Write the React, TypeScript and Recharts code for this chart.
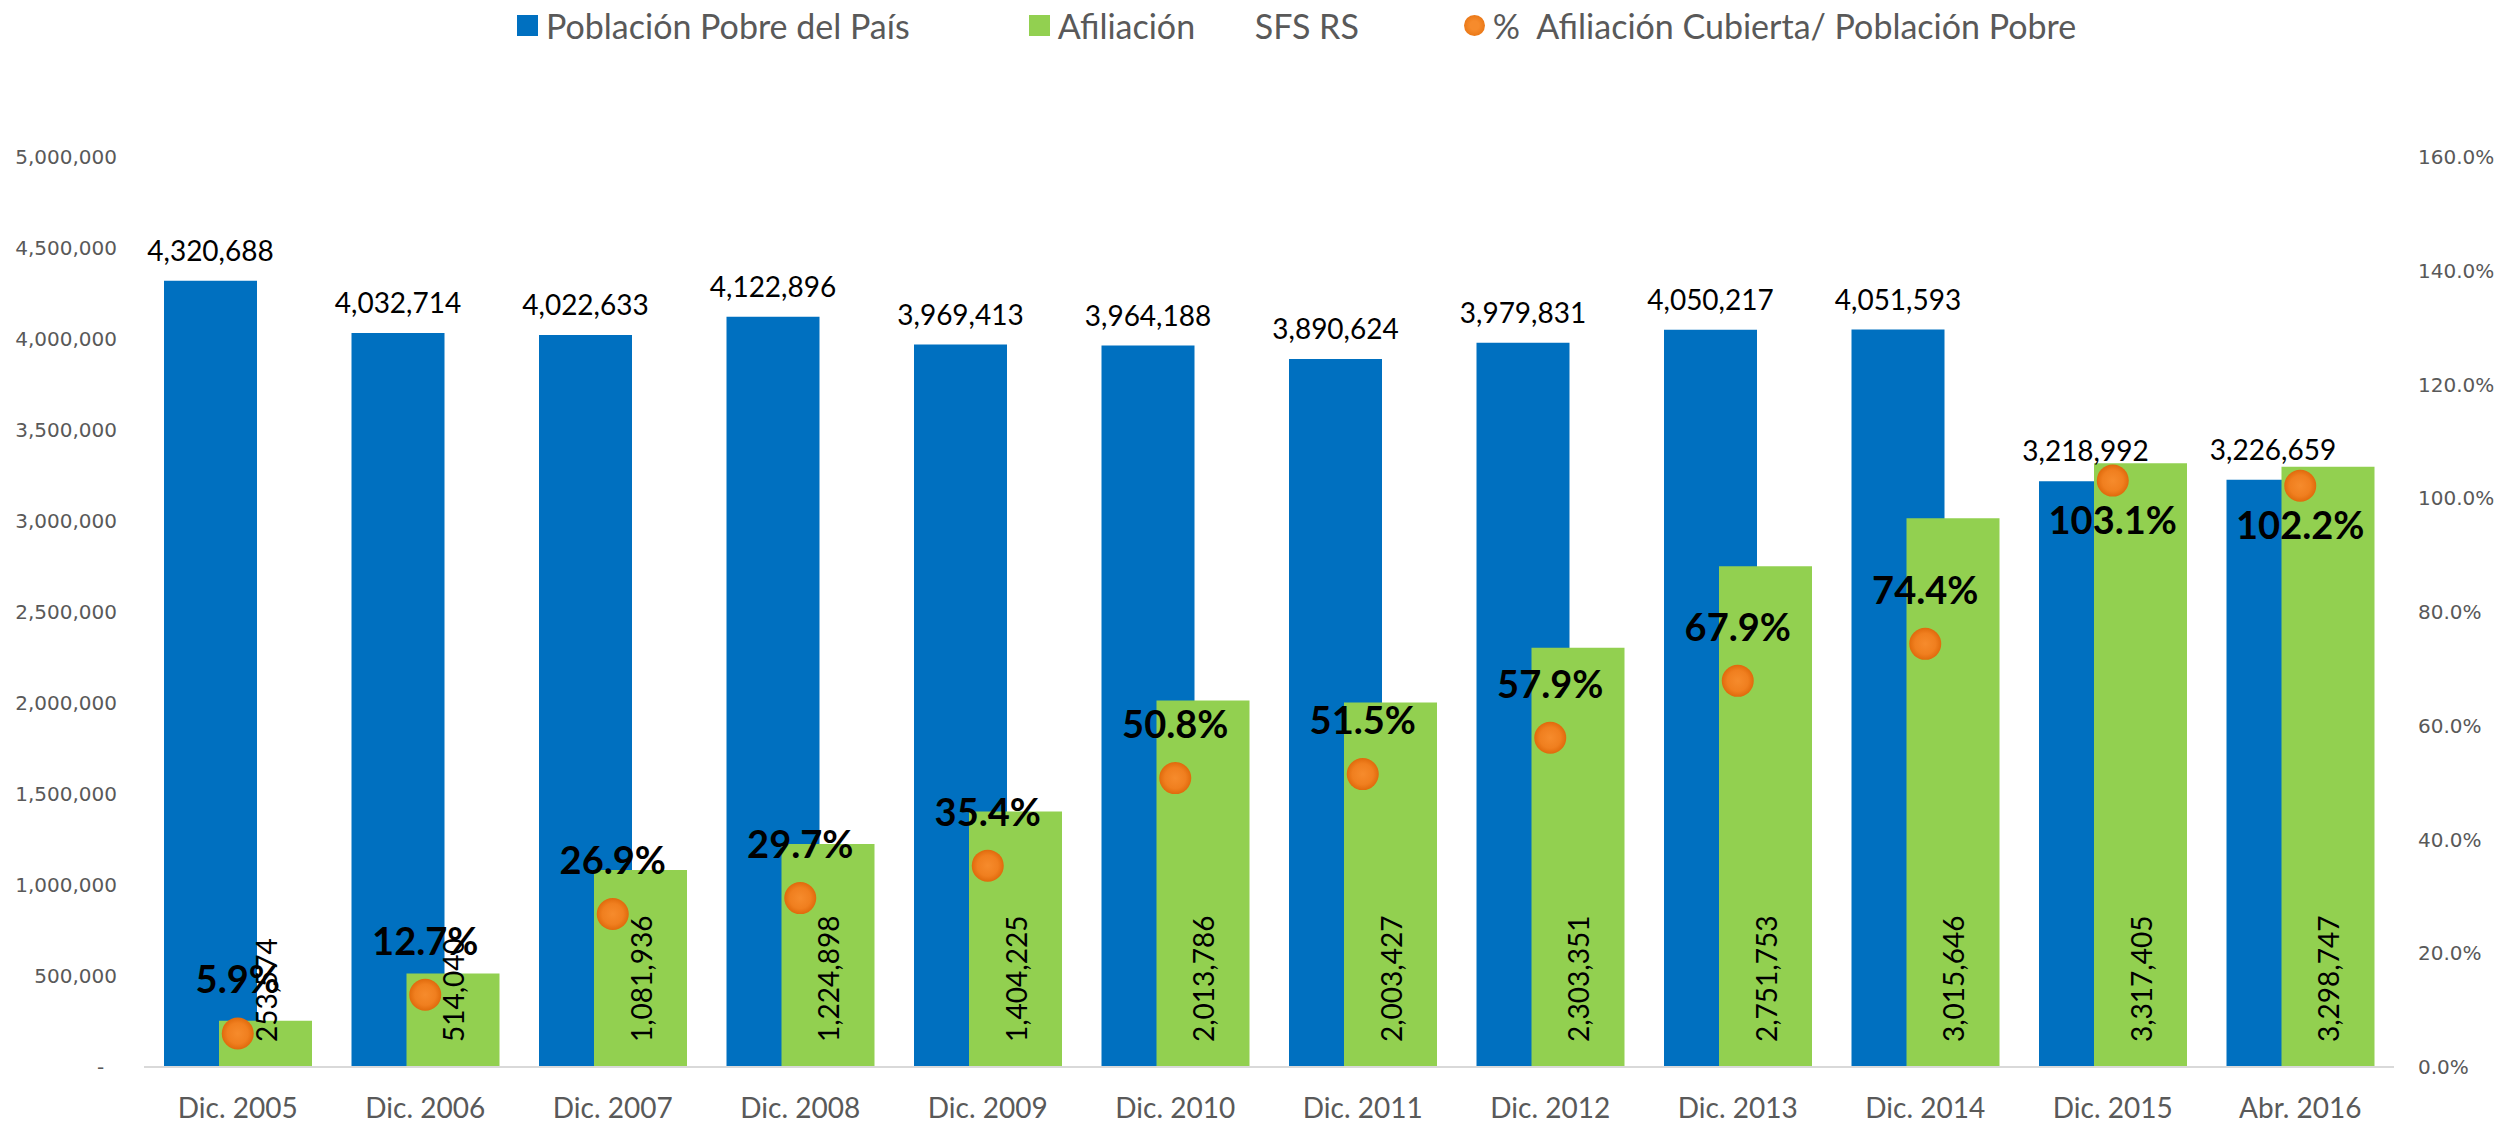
import React from 'react';
import {
  ComposedChart,
  Bar,
  Line,
  XAxis,
  YAxis,
  Legend,
  LabelList,
} from 'recharts';

// Categories and series
const categories = [
  'Dic. 2005', 'Dic. 2006', 'Dic. 2007', 'Dic. 2008', 'Dic. 2009', 'Dic. 2010',
  'Dic. 2011', 'Dic. 2012', 'Dic. 2013', 'Dic. 2014', 'Dic. 2015', 'Abr. 2016',
];
const poblacionPobre = [
  4320688, 4032714, 4022633, 4122896, 3969413, 3964188,
  3890624, 3979831, 4050217, 4051593, 3218992, 3226659,
];
const afiliacion = [
  253574, 514040, 1081936, 1224898, 1404225, 2013786,
  2003427, 2303351, 2751753, 3015646, 3317405, 3298747,
];
const cobertura = [
  0.059, 0.127, 0.269, 0.297, 0.354, 0.508,
  0.515, 0.579, 0.679, 0.744, 1.031, 1.022,
];
const leftTicks = [0, 500000, 1000000, 1500000, 2000000, 2500000, 3000000, 3500000, 4000000, 4500000, 5000000];
const rightTicks = [0, 0.2, 0.4, 0.6, 0.8, 1.0, 1.2, 1.4, 1.6];

const data = categories.map((name, i) => ({
  name,
  pobre: poblacionPobre[i],
  afil: afiliacion[i],
  pct: cobertura[i],
}));

const BLUE = '#0070C0';
const GREEN = '#92D050';
const LABEL_FONT = 'Lato, "Noto Sans", sans-serif';
const AXIS_FONT = '"DejaVu Sans", sans-serif';
const LEGEND_ORDER = ['pobre', 'afil', 'pct'];
const LEGEND_GAPS = [119, 105, 0];
const fmt = (v: number) => v.toLocaleString('en-US');

// blue bar values above each bar
const renderTopLabel = (props: any) => {
  const { x, y, width, value } = props;
  return (
    <text x={x + width / 2} y={y - 20} textAnchor="middle" fill="#000" fontSize={28} fontFamily={LABEL_FONT}>
      {fmt(value)}
    </text>
  );
};

// green bar values, rotated, sitting near the bottom of each bar
const renderInsideLabel = (props: any) => {
  const { x, y, width, height, value } = props;
  const cx = x + width / 2;
  const by = y + height - 25;
  return (
    <text
      x={cx}
      y={by}
      transform={`rotate(-90 ${cx} ${by})`}
      textAnchor="start"
      dominantBaseline="central"
      fill="#000"
      fontSize={28}
      fontFamily={LABEL_FONT}
    >
      {fmt(value)}
    </text>
  );
};

// percentage labels: above the dot, below it once coverage passes 100%
const renderPctLabel = (props: any) => {
  const { x, y, value } = props;
  const below = value > 1;
  return (
    <text
      x={x}
      y={below ? y + 53 : y - 40}
      textAnchor="middle"
      fill="#000"
      fontSize={38}
      fontWeight={700}
      fontFamily={LABEL_FONT}
    >
      {(value * 100).toFixed(1)}%
    </text>
  );
};

const renderDot = (props: any) => {
  const { cx, cy, index } = props;
  return <circle key={`dot-${index}`} cx={cx} cy={cy} r={16} fill="url(#orangeDot)" />;
};

const renderLegend = (props: any) => {
  const payload = [...(props.payload || [])].sort(
    (a: any, b: any) => LEGEND_ORDER.indexOf(a.dataKey) - LEGEND_ORDER.indexOf(b.dataKey)
  );
  return (
    <div
      style={{
        display: 'flex',
        alignItems: 'center',
        fontFamily: LABEL_FONT,
        fontSize: 34,
        color: '#595959',
        whiteSpace: 'pre',
      }}
    >
      {payload.map((entry: any, i: number) => (
        <div key={i} style={{ display: 'flex', alignItems: 'center', marginRight: LEGEND_GAPS[i] }}>
          <span
            style={{
              display: 'inline-block',
              width: 21,
              height: 21,
              marginRight: 8,
              borderRadius: entry.type === 'circle' ? '50%' : 0,
              background:
                entry.type === 'circle'
                  ? 'radial-gradient(circle, #F68B2C 30%, #E36C0A 100%)'
                  : entry.color,
            }}
          />
          <span>{entry.value}</span>
        </div>
      ))}
    </div>
  );
};

export default function App() {
  return (
    <div style={{ position: 'absolute', left: 0, top: 0 }}>
      <ComposedChart
        width={2510}
        height={1128}
        data={data}
        margin={{ top: 157, right: 0, bottom: 0, left: 0 }}
        barGap={-38}
      >
        <defs>
          <radialGradient id="orangeDot" cx="50%" cy="50%" r="50%">
            <stop offset="0%" stopColor="#F68B2C" />
            <stop offset="65%" stopColor="#F07F1F" />
            <stop offset="100%" stopColor="#E06A0C" />
          </radialGradient>
        </defs>
        <XAxis
          dataKey="name"
          axisLine={{ stroke: '#D9D9D9', strokeWidth: 2 }}
          tickLine={false}
          tickSize={0}
          tickMargin={31}
          height={61}
          interval={0}
          tick={{ fill: '#595959', fontSize: 28, fontFamily: LABEL_FONT }}
        />
        <YAxis
          yAxisId="left"
          width={144}
          domain={[0, 5000000]}
          ticks={leftTicks}
          axisLine={false}
          tickLine={false}
          tickSize={0}
          tickMargin={27}
          tickFormatter={(v: number) => (v === 0 ? '-\u00A0\u00A0' : fmt(v))}
          tick={{ fill: '#595959', fontSize: 20, fontFamily: AXIS_FONT }}
        />
        <YAxis
          yAxisId="right"
          orientation="right"
          width={116}
          domain={[0, 1.6]}
          ticks={rightTicks}
          axisLine={false}
          tickLine={false}
          tickSize={0}
          tickMargin={24}
          tickFormatter={(v: number) => `${(v * 100).toFixed(1)}%`}
          tick={{ fill: '#595959', fontSize: 20, fontFamily: AXIS_FONT }}
        />
        <Legend
          verticalAlign="middle"
          align="center"
          layout="horizontal"
          content={renderLegend}
          wrapperStyle={{ top: 5, left: 517, width: 'auto' }}
        />
        <Bar
          yAxisId="left"
          dataKey="pobre"
          name="Población Pobre del País"
          fill={BLUE}
          barSize={93}
          isAnimationActive={false}
        >
          <LabelList dataKey="pobre" content={renderTopLabel} />
        </Bar>
        <Bar
          yAxisId="left"
          dataKey="afil"
          name={'Afiliación\u2003\u2003 SFS RS'}
          fill={GREEN}
          barSize={93}
          isAnimationActive={false}
        >
          <LabelList dataKey="afil" content={renderInsideLabel} />
        </Bar>
        <Line
          yAxisId="right"
          dataKey="pct"
          name="%  Afiliación Cubierta/ Población Pobre"
          stroke="none"
          legendType="circle"
          dot={renderDot}
          activeDot={false}
          isAnimationActive={false}
        >
          <LabelList dataKey="pct" content={renderPctLabel} />
        </Line>
      </ComposedChart>
    </div>
  );
}
